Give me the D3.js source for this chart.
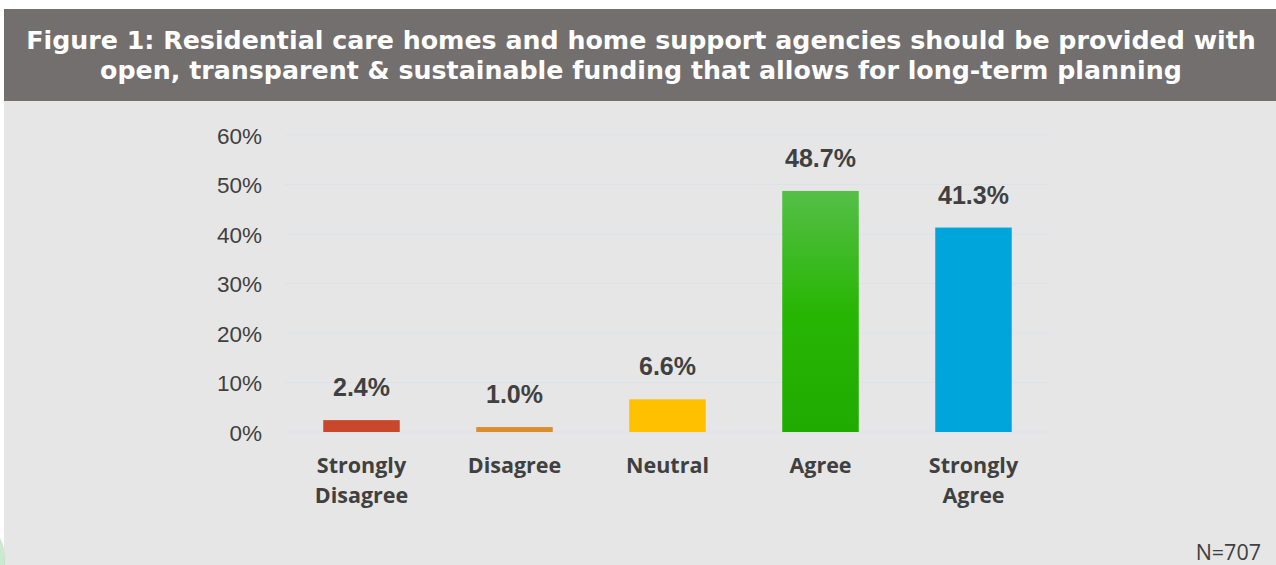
<!DOCTYPE html>
<html>
<head>
<meta charset="utf-8">
<script src="https://cdn.jsdelivr.net/npm/d3@7/dist/d3.min.js"></script>
<style>
  html, body { margin: 0; padding: 0; background: #ffffff; }
  svg { display: block; }
</style>
</head>
<body>
<svg id="chart" width="1276" height="565"></svg>
<script>
// Survey responses (share of respondents)
const categories = ["Strongly Disagree", "Disagree", "Neutral", "Agree", "Strongly Agree"];
const categoryLines = [["Strongly", "Disagree"], ["Disagree"], ["Neutral"], ["Agree"], ["Strongly", "Agree"]];
const values = [2.4, 1.0, 6.6, 48.7, 41.3];
const barColors = ["#c9472b", "#d98f2e", "#ffc000", "url(#agreeGrad)", "#00a6db"];
const yTicks = [0, 10, 20, 30, 40, 50, 60];
const titleLines = [
  "Figure 1: Residential care homes and home support agencies should be provided with",
  "open, transparent & sustainable funding that allows for long-term planning"
];
const sampleNote = "N=707";

const svg = d3.select("#chart");
const W = 1276, H = 565;

// Background panels
svg.append("rect").attr("x", 4).attr("y", 101).attr("width", W - 4).attr("height", H - 101).attr("fill", "#e6e6e6");
svg.append("rect").attr("x", 4).attr("y", 9).attr("width", W - 4).attr("height", 92).attr("fill", "#736f6e");
svg.append("path")
  .attr("d", "M0,538 Q6,548 5,565 L0,565 Z")
  .attr("fill", "#bfe3c4").attr("opacity", 0.8);

// Title
svg.append("g").selectAll("text").data(titleLines).join("text")
  .attr("x", 641)
  .attr("y", (d, i) => 49 + i * 30)
  .attr("text-anchor", "middle")
  .attr("fill", "#ffffff")
  .attr("font-family", "'DejaVu Sans', Verdana, sans-serif")
  .attr("font-weight", "bold")
  .attr("font-size", 25.3)
  .text(d => d);

const defs = svg.append("defs");
const grad = defs.append("linearGradient").attr("id", "agreeGrad")
  .attr("x1", 0).attr("y1", 0).attr("x2", 0).attr("y2", 1);
grad.append("stop").attr("offset", "0%").attr("stop-color", "#55bf48");
grad.append("stop").attr("offset", "50%").attr("stop-color", "#28b604");
grad.append("stop").attr("offset", "100%").attr("stop-color", "#1fab00");

// Scales
const x = d3.scaleBand().domain(categories).range([285, 1050]).paddingInner(0.5).paddingOuter(0.25);
const y = d3.scaleLinear().domain([0, 60]).range([432, 135]);

// Gridlines
svg.append("g").selectAll("line").data(yTicks).join("line")
  .attr("x1", 285).attr("x2", 1048)
  .attr("y1", d => y(d)).attr("y2", d => y(d))
  .attr("stroke", "#dce2ea").attr("stroke-width", 1.2);

// Y axis labels
const yAxis = d3.axisLeft(y).tickValues(yTicks).tickFormat(d => d + "%").tickSize(0).tickPadding(0);
const yg = svg.append("g").attr("transform", "translate(262,0)").call(yAxis);
yg.select(".domain").remove();
yg.selectAll("text")
  .attr("font-family", "'Liberation Sans', Arial, sans-serif")
  .attr("font-size", 22.5)
  .attr("fill", "#404040")
  .attr("dy", "0.36em");

// Bars
svg.append("g").selectAll("rect").data(values).join("rect")
  .attr("x", (d, i) => x(categories[i]))
  .attr("y", d => y(d))
  .attr("width", x.bandwidth())
  .attr("height", d => y(0) - y(d))
  .attr("fill", (d, i) => barColors[i]);

// Value labels
svg.append("g").selectAll("text").data(values).join("text")
  .attr("x", (d, i) => x(categories[i]) + x.bandwidth() / 2)
  .attr("y", d => y(d) - 24)
  .attr("text-anchor", "middle")
  .attr("font-family", "'Liberation Sans', Arial, sans-serif")
  .attr("font-weight", "bold")
  .attr("font-size", 25)
  .attr("fill", "#404040")
  .text(d => d.toFixed(1) + "%");

// Category labels
const cat = svg.append("g").selectAll("text").data(categoryLines).join("text")
  .attr("text-anchor", "middle")
  .attr("font-family", "'Open Sans', 'Noto Sans', sans-serif")
  .attr("font-weight", "bold")
  .attr("font-size", 21.5)
  .attr("fill", "#404040");
cat.each(function(lines, i) {
  d3.select(this).selectAll("tspan").data(lines).join("tspan")
    .attr("x", x(categories[i]) + x.bandwidth() / 2)
    .attr("y", (d, j) => 473 + j * 30)
    .text(d => d);
});

// Sample size note
svg.append("text")
  .attr("x", 1261).attr("y", 560)
  .attr("text-anchor", "end")
  .attr("font-family", "'Open Sans', 'Noto Sans', sans-serif")
  .attr("font-size", 21.5)
  .attr("fill", "#404040")
  .text(sampleNote);
</script>
</body>
</html>
